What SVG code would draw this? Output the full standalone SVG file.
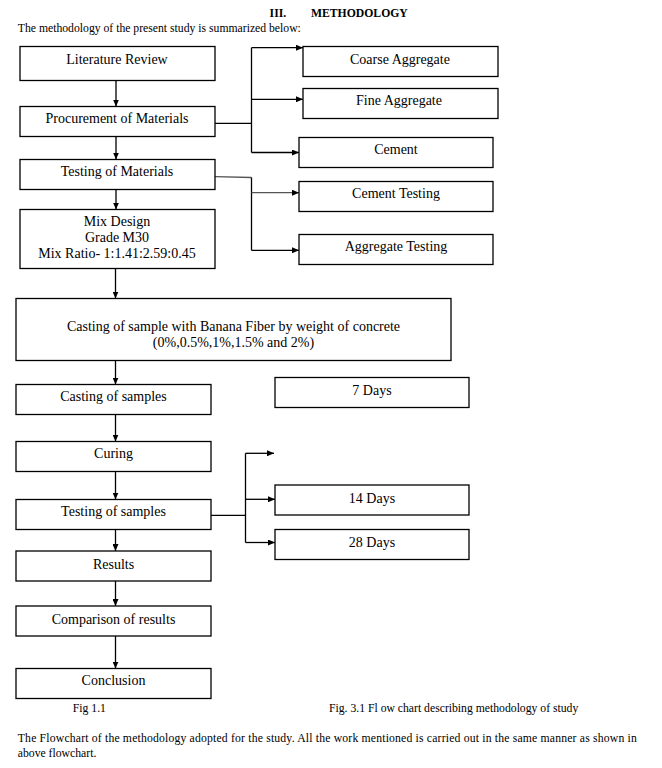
<svg xmlns="http://www.w3.org/2000/svg" width="662" height="768" viewBox="0 0 662 768">
<style>
  .bg { fill: #ffffff; }
  .box { fill: #ffffff; stroke: #000000; stroke-width: 1.3; }
  .t { font-family: 'Liberation Serif', 'Times New Roman', serif; font-size: 14px; fill: #000000; text-anchor: middle; }
  .p { font-family: 'Liberation Serif', 'Times New Roman', serif; font-size: 11.7px; fill: #000000; }
  .h { font-family: 'Liberation Serif', 'Times New Roman', serif; font-size: 11.7px; font-weight: bold; fill: #000000; }
  .c { fill: none; stroke: #000000; stroke-width: 1.3; }
  .g { fill: none; stroke: #555555; stroke-width: 1.3; }
</style>
<defs>
  <marker id="arr" markerUnits="userSpaceOnUse" markerWidth="7" markerHeight="6" refX="7" refY="3" orient="auto">
    <path d="M0,0 L7,3 L0,6 z" fill="#000000"/>
  </marker>
</defs>
<rect class="bg" x="0" y="0" width="662" height="768"/>

<g id="heading">
  <text class="h" x="269.6" y="17">III.</text>
  <text class="h" x="311" y="17">METHODOLOGY</text>
  <text class="p" x="17.8" y="32">The methodology of the present study is summarized below:</text>
</g>

<g id="connectors">
  <line class="c" x1="116" y1="80.5" x2="116" y2="106.5" marker-end="url(#arr)"/>
  <line class="c" x1="116" y1="136.5" x2="116" y2="159.5" marker-end="url(#arr)"/>
  <line class="c" x1="116" y1="189.5" x2="116" y2="209.5" marker-end="url(#arr)"/>
  <line class="c" x1="115.5" y1="268.5" x2="115.5" y2="298.5" marker-end="url(#arr)"/>
  <line class="c" x1="115.5" y1="360.5" x2="115.5" y2="384.5" marker-end="url(#arr)"/>
  <line class="c" x1="115.5" y1="414.5" x2="115.5" y2="441.5" marker-end="url(#arr)"/>
  <line class="c" x1="115.5" y1="471.5" x2="115.5" y2="499.5" marker-end="url(#arr)"/>
  <line class="c" x1="115.5" y1="529.5" x2="115.5" y2="551" marker-end="url(#arr)"/>
  <line class="c" x1="115.5" y1="581" x2="115.5" y2="606" marker-end="url(#arr)"/>
  <line class="c" x1="115.5" y1="636" x2="115.5" y2="668.5" marker-end="url(#arr)"/>

  <polyline class="c" points="215,123.3 251.5,123.3"/>
  <line class="c" x1="251.5" y1="47.7" x2="251.5" y2="152.5"/>
  <line class="c" x1="251.5" y1="47.7" x2="303" y2="47.7" marker-end="url(#arr)"/>
  <line class="c" x1="251.5" y1="99.3" x2="303" y2="99.3" marker-end="url(#arr)"/>
  <line class="c" x1="251.5" y1="152.5" x2="299" y2="152.5" marker-end="url(#arr)"/>

  <polyline class="g" points="215,176.7 251.5,177.5"/>
  <line class="c" x1="251.5" y1="177.5" x2="251.5" y2="250.3"/>
  <line class="g" x1="251.5" y1="192.7" x2="299" y2="192.7" marker-end="url(#arr)"/>
  <line class="c" x1="251.5" y1="250.3" x2="299" y2="250.3" marker-end="url(#arr)"/>

  <line class="c" x1="211" y1="515.3" x2="245.5" y2="515.3"/>
  <line class="c" x1="245.5" y1="453.3" x2="245.5" y2="542.5"/>
  <line class="c" x1="245.5" y1="453.3" x2="274" y2="453.3" marker-end="url(#arr)"/>
  <line class="c" x1="245.5" y1="499.3" x2="275" y2="499.3" marker-end="url(#arr)"/>
  <line class="c" x1="245.5" y1="542.5" x2="275" y2="542.5" marker-end="url(#arr)"/>
</g>

<g id="literature-review">
  <rect class="box" x="20" y="46.5" width="195" height="34"/>
  <text class="t" x="117" y="64">Literature Review</text>
</g>
<g id="procurement">
  <rect class="box" x="20" y="106.5" width="195" height="30"/>
  <text class="t" x="117" y="122.5">Procurement of Materials</text>
</g>
<g id="testing-materials">
  <rect class="box" x="20" y="159.5" width="195" height="30"/>
  <text class="t" x="117" y="176">Testing of Materials</text>
</g>
<g id="mix-design">
  <rect class="box" x="20" y="209.5" width="195" height="59"/>
  <text class="t" x="117" y="226">Mix Design</text>
  <text class="t" x="117" y="242">Grade M30</text>
  <text class="t" x="117" y="258">Mix Ratio- 1:1.41:2.59:0.45</text>
</g>
<g id="casting-banana">
  <rect class="box" x="16" y="298.5" width="435" height="62"/>
  <text class="t" x="233.5" y="331">Casting of sample with Banana Fiber by weight of concrete</text>
  <text class="t" x="233.5" y="347">(0%,0.5%,1%,1.5% and 2%)</text>
</g>
<g id="casting-samples">
  <rect class="box" x="16" y="384.5" width="195" height="30"/>
  <text class="t" x="113.5" y="401">Casting of samples</text>
</g>
<g id="curing">
  <rect class="box" x="16" y="441.5" width="195" height="30"/>
  <text class="t" x="113.5" y="458">Curing</text>
</g>
<g id="testing-samples">
  <rect class="box" x="16" y="499.5" width="195" height="30"/>
  <text class="t" x="113.5" y="515.5">Testing of samples</text>
</g>
<g id="results">
  <rect class="box" x="16" y="551" width="195" height="30"/>
  <text class="t" x="113.5" y="568.5">Results</text>
</g>
<g id="comparison">
  <rect class="box" x="16" y="606" width="195" height="30"/>
  <text class="t" x="113.5" y="624">Comparison of results</text>
</g>
<g id="conclusion">
  <rect class="box" x="16" y="668.5" width="195" height="30"/>
  <text class="t" x="113.5" y="685">Conclusion</text>
</g>

<g id="coarse-aggregate">
  <rect class="box" x="303" y="46.5" width="195" height="30"/>
  <text class="t" x="400" y="64">Coarse Aggregate</text>
</g>
<g id="fine-aggregate">
  <rect class="box" x="303" y="88.5" width="195" height="30"/>
  <text class="t" x="399" y="105">Fine Aggregate</text>
</g>
<g id="cement">
  <rect class="box" x="299" y="137.5" width="194" height="30"/>
  <text class="t" x="396" y="154">Cement</text>
</g>
<g id="cement-testing">
  <rect class="box" x="299" y="181.5" width="194" height="30"/>
  <text class="t" x="396" y="198">Cement Testing</text>
</g>
<g id="aggregate-testing">
  <rect class="box" x="299" y="234.5" width="194" height="30"/>
  <text class="t" x="396" y="251">Aggregate Testing</text>
</g>
<g id="days-7">
  <rect class="box" x="275" y="377.5" width="194" height="30"/>
  <text class="t" x="372" y="395">7 Days</text>
</g>
<g id="days-14">
  <rect class="box" x="275" y="485" width="194" height="30"/>
  <text class="t" x="372" y="503">14 Days</text>
</g>
<g id="days-28">
  <rect class="box" x="275" y="529.5" width="194" height="30"/>
  <text class="t" x="372" y="547">28 Days</text>
</g>

<g id="captions">
  <text class="p" x="72.8" y="712">Fig 1.1</text>
  <text class="p" x="329" y="712">Fig. 3.1 Fl ow chart describing methodology of study</text>
  <text class="p" x="17.8" y="742" textLength="619" lengthAdjust="spacing">The Flowchart of the methodology adopted for the study. All the work mentioned is carried out in the same manner as shown in</text>
  <text class="p" x="17.8" y="757">above flowchart.</text>
</g>
</svg>
